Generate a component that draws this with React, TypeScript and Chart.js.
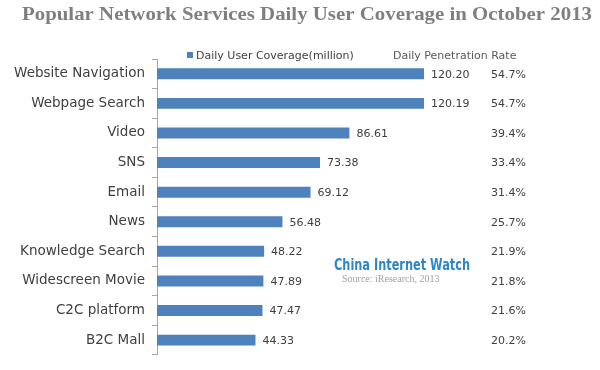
import React, { useEffect, useRef } from "react";
import { Chart, registerables } from "chart.js";

Chart.register(...registerables);

const categories = [
  "Website Navigation",
  "Webpage Search",
  "Video",
  "SNS",
  "Email",
  "News",
  "Knowledge Search",
  "Widescreen Movie",
  "C2C platform",
  "B2C Mall",
];
const coverage = [120.2, 120.19, 86.61, 73.38, 69.12, 56.48, 48.22, 47.89, 47.47, 44.33];
const penetration = ["54.7%", "54.7%", "39.4%", "33.4%", "31.4%", "25.7%", "21.9%", "21.8%", "21.6%", "20.2%"];
const titleText = "Popular Network Services Daily User Coverage in October 2013";
const seriesName = "Daily User Coverage(million)";
const rateHeader = "Daily Penetration Rate";

const LABEL_FONT = "'DejaVu Sans', sans-serif";

function fitText(ctx: any, text: string, x: number, y: number, width: number) {
  const w = ctx.measureText(text).width;
  ctx.save();
  ctx.translate(x, y);
  ctx.scale(width / w, 1);
  ctx.fillText(text, 0, 0);
  ctx.restore();
}

const overlay = {
  id: "overlay",
  afterDatasetsDraw(chart: any) {
    const ctx = chart.ctx;
    const meta = chart.getDatasetMeta(0);
    ctx.save();
    // value labels
    ctx.font = `11px ${LABEL_FONT}`;
    ctx.fillStyle = "#404040";
    ctx.textBaseline = "middle";
    ctx.textAlign = "left";
    meta.data.forEach((bar: any, i: number) => {
      ctx.fillText(coverage[i].toFixed(2), bar.x + 7, bar.y + 1);
    });
    // penetration column
    const yScale = chart.scales.y;
    meta.data.forEach((bar: any, i: number) => {
      ctx.fillText(penetration[i], 491, yScale.getPixelForValue(i) + 1);
    });
    // title
    ctx.font = "bold 19px 'Liberation Serif', serif";
    ctx.fillStyle = "#7f7f7f";
    ctx.textAlign = "left";
    fitText(ctx, titleText, 22, 15, 570);
    // legend
    ctx.fillStyle = "#4f81bd";
    ctx.fillRect(187, 52, 6, 6);
    ctx.font = `11px ${LABEL_FONT}`;
    ctx.fillStyle = "#404040";
    ctx.fillText(seriesName, 196, 56);
    ctx.fillStyle = "#595959";
    ctx.fillText(rateHeader, 393, 56);
    // watermark
    ctx.font = "bold 16px 'DejaVu Sans Condensed', 'DejaVu Sans', sans-serif";
    ctx.fillStyle = "#2e86c8";
    fitText(ctx, "China Internet Watch", 334, 266, 136);
    ctx.font = "10px 'Liberation Serif', serif";
    ctx.fillStyle = "#a0a0a0";
    ctx.fillText("Source: iResearch, 2013", 342, 279);
    ctx.restore();
  },
};

export default function App() {
  const ref = useRef<HTMLCanvasElement>(null);
  useEffect(() => {
    document.body.style.margin = "0";
    const chart = new Chart(ref.current!, {
      type: "bar",
      data: {
        labels: categories,
        datasets: [
          {
            label: seriesName,
            data: coverage,
            backgroundColor: "#4f81bd",
            borderWidth: 0,
            barPercentage: 0.37,
            categoryPercentage: 1,
          },
        ],
      },
      options: {
        indexAxis: "y",
        responsive: false,
        animation: false,
        layout: { padding: { left: 0, top: 59, bottom: 12, right: 132 } },
        plugins: {
          legend: { display: false },
          title: { display: false },
          tooltip: { enabled: false },
        },
        scales: {
          x: { display: false, min: 0, max: 140 },
          y: {
            afterFit: (s: any) => {
              s.width = 157;
            },
            grid: {
              display: true,
              drawOnChartArea: false,
              drawTicks: true,
              tickLength: 5,
              offset: true,
              color: "#a6a6a6",
            },
            border: { display: true, color: "#a6a6a6" },
            ticks: {
              padding: 7,
              color: "#404040",
              font: { family: LABEL_FONT, size: 13.5 },
            },
          },
        },
      },
      plugins: [overlay],
    });
    return () => chart.destroy();
  }, []);
  return (
    <div style={{ width: 600, height: 370 }}>
      <canvas ref={ref} width={600} height={370} />
    </div>
  );
}
